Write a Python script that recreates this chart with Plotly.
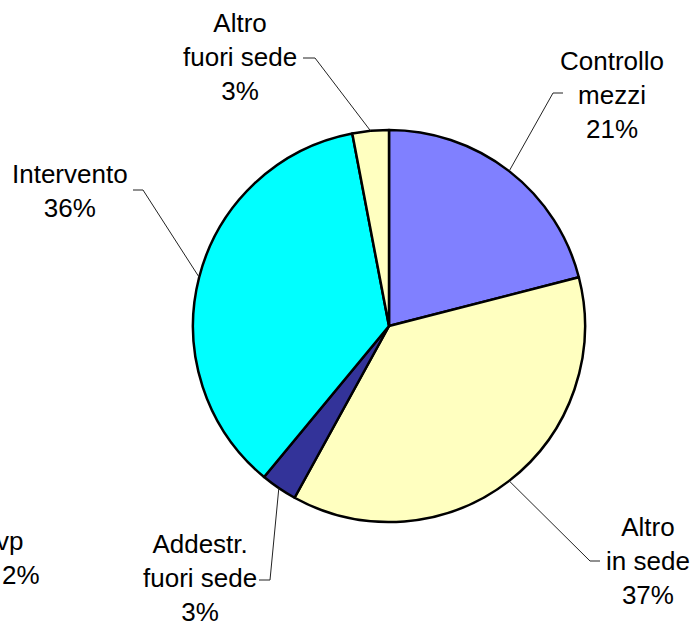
import math
import plotly.graph_objects as go

# ---- data ----
labels = ["Controllo<br>mezzi", "Altro<br>in sede", "Addestr.<br>fuori sede", "Intervento", "Altro<br>fuori sede"]
values = [21, 37, 3, 36, 3]
colors = ["#8080FF", "#FFFFC0", "#333399", "#00FFFF", "#FFFFC0"]
extra_label = "vp"
extra_value = "2%"

# ---- layout constants (pixels) ----
W, H = 694, 628
CX, CY, R = 389, 326, 196
FONT = "Liberation Sans, Arial, sans-serif"
FS = 26

# label text centre, elbow point, end of leader (px)
label_pos = [
    dict(tx=612, ty=95, elbow=(553, 93), end=(563, 93)),
    dict(tx=648, ty=561, elbow=(590, 561), end=(600, 561)),
    dict(tx=200, ty=578, elbow=(270, 580), end=(259, 580)),
    dict(tx=70, ty=191, elbow=(143, 190), end=(133, 190)),
    dict(tx=240, ty=57, elbow=(315, 58), end=(303, 58)),
]

def px(x):
    return x / W

def py(y):
    return 1 - y / H

fig = go.Figure(go.Pie(
    labels=labels, values=values, sort=False, direction="clockwise", rotation=0,
    marker=dict(colors=colors, line=dict(color="black", width=2.5)),
    textinfo="none", hoverinfo="label+percent", showlegend=False,
    domain=dict(x=[px(CX - R), px(CX + R)], y=[py(CY + R), py(CY - R)]),
))

total = sum(values)
cum = 0
annotations = []
shapes = []
for lab, v, lp in zip(labels, values, label_pos):
    mid = (cum + v / 2) / total * 2 * math.pi
    cum += v
    sx = CX + R * math.sin(mid)
    sy = CY - R * math.cos(mid)
    pct = round(v / total * 100)
    annotations.append(dict(
        x=px(lp["tx"]), y=py(lp["ty"]), xref="paper", yref="paper",
        text=f"{lab}<br>{pct}%", showarrow=False, align="center",
        xanchor="center", yanchor="middle", borderpad=0,
        font=dict(family=FONT, size=FS, color="black"),
    ))
    ex, ey = lp["elbow"]
    fx, fy = lp["end"]
    shapes.append(dict(type="path", xref="paper", yref="paper",
                       path=f"M {px(sx)} {py(sy)} L {px(ex)} {py(ey)} L {px(fx)} {py(fy)}",
                       line=dict(color="#222222", width=1)))

annotations.append(dict(x=px(25), y=py(541), xref="paper", yref="paper", text=extra_label,
                        showarrow=False, xanchor="right", yanchor="middle",
                        font=dict(family=FONT, size=FS, color="black")))
annotations.append(dict(x=px(0), y=py(575), xref="paper", yref="paper", text=extra_value,
                        showarrow=False, xanchor="left", yanchor="middle",
                        font=dict(family=FONT, size=FS, color="black")))

fig.update_layout(
    width=W, height=H, margin=dict(l=0, r=0, t=0, b=0),
    paper_bgcolor="white", plot_bgcolor="white",
    annotations=annotations, shapes=shapes,
    font=dict(family=FONT),
)

fig.write_html("out.html", config={"displayModeBar": False},
               post_script="document.body.style.margin='0';document.body.style.overflow='hidden';")
